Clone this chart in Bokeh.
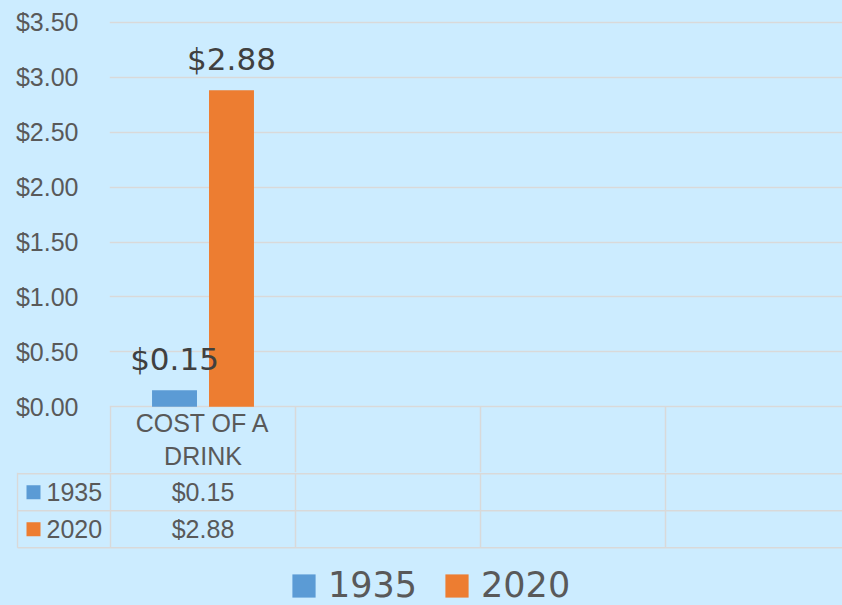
from bokeh.plotting import figure
from bokeh.layouts import column
from bokeh.models import Range1d, FixedTicker, NumeralTickFormatter, ColumnDataSource
from bokeh.core.properties import value
from bokeh.embed import file_html
from bokeh.resources import INLINE

# ---------------- data ----------------
categories = ["COST OF A DRINK"]
series = ["1935", "2020"]
values_1935 = [0.15]
values_2020 = [2.88]
y_ticks = [0.0, 0.5, 1.0, 1.5, 2.0, 2.5, 3.0, 3.5]
n_slots = 4  # category columns of the data table (only the first one is filled)

# ---------------- style ----------------
BG = "#CCECFF"
COLORS = ["#5B9BD5", "#ED7D31"]
GRID = "#D9D9D9"
TEXT = "#595959"
LABEL_TEXT = "#404040"
AX_FONT = "Liberation Sans"
BIG_FONT = "DejaVu Sans"

W = 842
CAT_PX = 185.0           # width of one category slot in px
AXIS_X = 110             # x of the value axis (left edge of first slot)
A_LEFT = 109             # chart frame left border
A_H = 472                # chart figure height (plot + header row of table)
A_TOP = 20
TOP_TICK_PX = 21.7       # where the top tick sits
PX_PER_UNIT = 109.9
B_H = 605 - A_H
B_LEFT = 16
TABLE_LEFT = 17

values = [values_1935, values_2020]

# ---------------- chart + table header (top) ----------------
x_start = -(AXIS_X - A_LEFT) / CAT_PX
x_end = x_start + (W - A_LEFT) / CAT_PX
frame_h = A_H - A_TOP
y_end = y_ticks[-1] + (TOP_TICK_PX - A_TOP) / PX_PER_UNIT
y_start = y_end - frame_h / PX_PER_UNIT

pa = figure(width=W, height=A_H, output_backend="svg", toolbar_location=None,
            x_range=Range1d(x_start, x_end), y_range=Range1d(y_start, y_end),
            x_axis_location=None, min_border_left=A_LEFT, min_border_right=0,
            min_border_top=A_TOP, min_border_bottom=0)
pa.frame_align = False
pa.background_fill_color = BG
pa.border_fill_color = BG
pa.outline_line_color = None
pa.xgrid.visible = False
pa.ygrid.grid_line_color = GRID
pa.ygrid.grid_line_width = 1.5
pa.yaxis.ticker = FixedTicker(ticks=y_ticks)
pa.yaxis.formatter = NumeralTickFormatter(format="$0.00")
pa.yaxis.axis_line_color = None
pa.yaxis.major_tick_line_color = None
pa.yaxis.minor_tick_line_color = None
pa.yaxis.major_label_standoff = 25
pa.yaxis.major_label_text_font = AX_FONT
pa.yaxis.major_label_text_font_size = "25px"
pa.yaxis.major_label_text_color = TEXT

# header row of the data table (below the zero line)
vx = list(range(n_slots + 1))
pa.segment(x0=vx, x1=vx, y0=[0] * len(vx), y1=[y_start] * len(vx),
           line_color=GRID, line_width=1.5)

def wrap(s):
    a, b = s.rsplit(" ", 1)
    return a + "\n" + b

header_mid = y_start / 2.0
pa.text(x=[i + 0.5 for i in range(len(categories))], y=[header_mid] * len(categories),
        text=[wrap(c) for c in categories], text_align="center", text_baseline="middle",
        text_line_height=1.18, text_font=value(AX_FONT), text_font_size="25px",
        text_color=TEXT)

offsets = [-0.154, 0.154]
bar_w = 0.243
for k, name in enumerate(series):
    xs = [i + 0.5 + offsets[k] for i in range(len(categories))]
    pa.vbar(x=xs, top=values[k], bottom=0, width=bar_w,
            fill_color=COLORS[k], line_color=None)
for k, name in enumerate(series):
    xs = [i + 0.5 + offsets[k] for i in range(len(categories))]
    src = ColumnDataSource(dict(x=xs, y=values[k],
                                lab=["${:.2f}".format(v) for v in values[k]]))
    pa.text(x="x", y="y", text="lab", source=src, y_offset=-31,
            text_align="center", text_baseline="alphabetic",
            text_font=value(BIG_FONT), text_font_size="31px", text_color=LABEL_TEXT)

# ---------------- data rows + legend (bottom) ----------------
xb_start = -(AXIS_X - B_LEFT) / CAT_PX
xb_end = xb_start + (W - B_LEFT) / CAT_PX
x_left = -(AXIS_X - TABLE_LEFT) / CAT_PX
FIRST_LINE = 1.3
ROW_H = 37
pb = figure(width=W, height=B_H, output_backend="svg", toolbar_location=None,
            x_range=Range1d(xb_start, xb_end), y_range=Range1d(-B_H, 0),
            x_axis_location=None, y_axis_location=None,
            min_border_left=B_LEFT, min_border_right=0,
            min_border_top=0, min_border_bottom=0)
pb.frame_align = False
pb.background_fill_color = BG
pb.border_fill_color = BG
pb.outline_line_color = None
pb.grid.visible = False

table_bottom = -(FIRST_LINE + ROW_H * len(series))
hy = [-(FIRST_LINE + ROW_H * r) for r in range(len(series) + 1)]
pb.segment(x0=[x_left] * len(hy), x1=[xb_end + 1] * len(hy), y0=hy, y1=hy,
           line_color=GRID, line_width=1.5)
vxb = [x_left] + vx
pb.segment(x0=vxb, x1=vxb, y0=[0] * len(vxb), y1=[table_bottom] * len(vxb),
           line_color=GRID, line_width=1.5)

row_y = [-(FIRST_LINE + ROW_H * (k + 0.5)) for k in range(len(series))]
for k, name in enumerate(series):
    pb.text(x=[i + 0.5 for i in range(len(categories))], y=[row_y[k]] * len(categories),
            text=["${:.2f}".format(v) for v in values[k]], text_align="center",
            text_baseline="middle", text_font=value(AX_FONT), text_font_size="25px",
            text_color=TEXT)
    pb.text(x=[x_left], y=[row_y[k]], text=[name], x_offset=29, text_align="left",
            text_baseline="middle", text_font=value(AX_FONT), text_font_size="25px",
            text_color=TEXT)
    pb.rect(x=[x_left + 16 / CAT_PX], y=[row_y[k]], width=14, height=14,
            width_units="screen", height_units="screen", fill_color=COLORS[k],
            line_color=None, legend_label=name)

leg = pb.legend[0]
leg.orientation = "horizontal"
leg.location = (273, 0)
leg.padding = 0
leg.margin = 0
leg.spacing = 25
leg.glyph_width = 29
leg.glyph_height = 29
leg.label_standoff = 10
leg.label_text_font = BIG_FONT
leg.label_text_font_size = "35px"
leg.label_text_color = TEXT
leg.border_line_color = None
leg.background_fill_alpha = 0

layout = column(pa, pb, spacing=0)
html = file_html(layout, INLINE)
html = html.replace("</head>", "<style>body{background:%s;}</style></head>" % BG, 1)
open("out.html", "w").write(html)
